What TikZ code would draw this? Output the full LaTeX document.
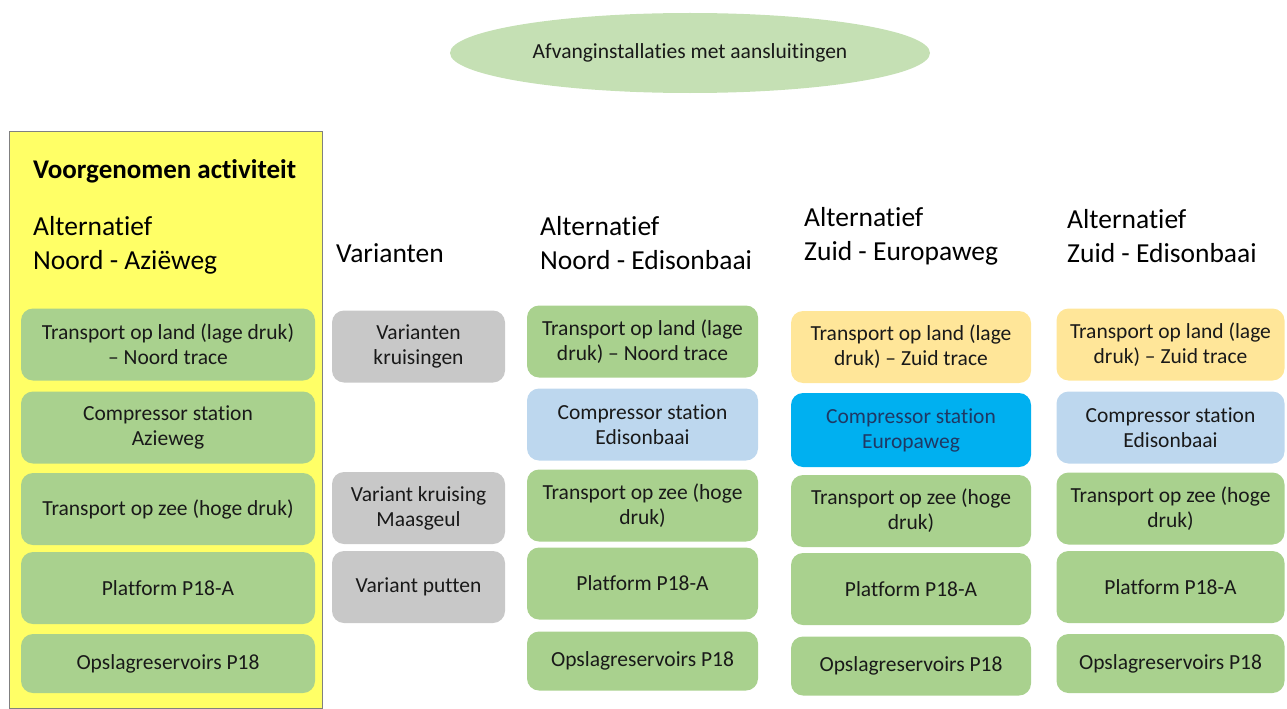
\documentclass[tikz,border=0pt]{standalone}
\usepackage{fontspec}
\setmainfont{Carlito}[Ligatures=NoCommon]
\usepackage{tikz}
\usetikzlibrary{shapes.geometric,positioning}

\definecolor{geel}{RGB}{255,255,102}
\definecolor{groen}{RGB}{169,209,142}
\definecolor{lichtgroen}{RGB}{197,224,180}
\definecolor{grijs}{RGB}{200,200,200}
\definecolor{lichtblauw}{RGB}{189,215,238}
\definecolor{felblauw}{RGB}{0,176,240}
\definecolor{oranje}{RGB}{255,230,153}
\definecolor{donkerblauw}{RGB}{31,56,100}
\definecolor{tekst}{RGB}{25,25,25}

\begin{document}
\begin{tikzpicture}[
x=1pt, y=-1pt,
blok/.style={
  rounded corners=12pt,
  inner sep=0pt,
  align=center,
  text=tekst,
  minimum height=72pt,
  font=\fontsize{21.5}{25}\selectfont
  },
kop/.style={
  anchor=west,
  inner sep=0pt,
  align=left,
  font=\fontsize{27.5}{34}\selectfont
  }
]
\useasboundingbox (0,0) rectangle (1287,709);

% bovenaan
\node[ellipse, fill=lichtgroen, minimum width=480pt, minimum height=80pt,
  font=\fontsize{21.5}{25}\selectfont, text=tekst] (afvang) at (690,53)
  {Afvanginstallaties met aansluitingen};

% voorgenomen activiteit
\node[draw=gray, fill=geel, line width=0.8pt, anchor=north west,
  minimum width=313pt, minimum height=577pt] (voorgenomen) at (9,131) {};
\node[kop, font=\fontsize{27}{34}\selectfont\bfseries] (voorgenomenkop) at (33,171) {Voorgenomen activiteit};
\node[kop] (nakop) at (33,245) {Alternatief\\Noord - Aziëweg};
\node[blok, fill=groen, minimum width=294pt] (na1) at (168,344.5) {Transport op land (lage druk)\\– Noord trace};
\node[blok, fill=groen, minimum width=294pt] (na2) at (168,427.5) {Compressor station\\Azieweg};
\node[blok, fill=groen, minimum width=294pt] (na3) at (168,509) {Transport op zee (hoge druk)};
\node[blok, fill=groen, minimum width=294pt] (na4) at (168,588) {Platform P18-A};
\node[blok, fill=groen, minimum width=294pt, minimum height=59pt] (na5) at (168,663.5) {Opslagreservoirs P18};

% varianten
\node[kop] (varkop) at (336,253) {Varianten};
\node[blok, fill=grijs, minimum width=173pt] (var1) at (418.5,346.5) {Varianten\\kruisingen};
\node[blok, fill=grijs, minimum width=173pt] (var2) at (418.5,508) {Variant kruising\\Maasgeul};
\node[blok, fill=grijs, minimum width=173pt] (var3) at (418.5,587) {Variant putten};

% alternatieven
\node[kop] (nekop) at (540,243.5) {Alternatief\\Noord - Edisonbaai};
\node[kop] (zekop) at (804,236.5) {Alternatief\\Zuid - Europaweg};
\node[kop] (zdkop) at (1067,236.5) {Alternatief\\Zuid - Edisonbaai};

\node[blok, fill=groen, minimum width=231pt] (ne1) at (642.5,341.5) {Transport op land (lage\\druk) – Noord trace};
\node[blok, fill=lichtblauw, minimum width=231pt] (ne2) at (642.5,424.5) {Compressor station\\Edisonbaai};
\node[blok, fill=oranje, minimum width=240pt] (ze1) at (911,347) {Transport op land (lage\\druk) – Zuid trace};
\node[blok, fill=felblauw, text=donkerblauw, minimum width=240pt, minimum height=74pt] (ze2) at (911,430) {Compressor station\\Europaweg};
\node[blok, fill=oranje, minimum width=228pt] (zd1) at (1170.5,344.5) {Transport op land (lage\\druk) – Zuid trace};
\node[blok, fill=lichtblauw, minimum width=228pt] (zd2) at (1170.5,427.5) {Compressor station\\Edisonbaai};

\foreach \k/\cx/\w/\ya/\yb/\yc in {ne/642.5/231/505.5/583.5/661, ze/911/240/511/589/666, zd/1170.5/228/508.5/587/663.5}
{
  \node[blok, fill=groen, minimum width=\w pt] (\k3) at (\cx,\ya) {Transport op zee (hoge\\druk)};
  \node[blok, fill=groen, minimum width=\w pt] (\k4) at (\cx,\yb) {Platform P18-A};
  \node[blok, fill=groen, minimum width=\w pt, minimum height=59pt] (\k5) at (\cx,\yc) {Opslagreservoirs P18};
}
\end{tikzpicture}
\end{document}
